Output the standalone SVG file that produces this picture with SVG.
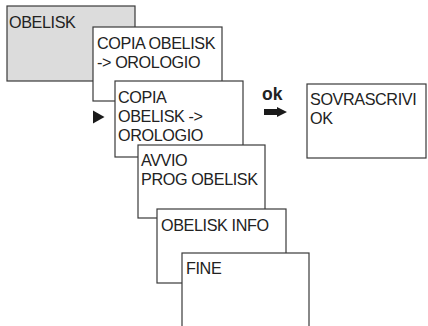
<svg xmlns="http://www.w3.org/2000/svg" width="428" height="326" viewBox="0 0 428 326">
<style>
.box{fill:#ffffff;stroke:#3a3a3a;stroke-width:1.2}
.t{font-family:"Liberation Sans",Arial,sans-serif;font-size:16.2px;letter-spacing:-0.4px;fill:#222222}
.b{font-family:"Liberation Sans",Arial,sans-serif;font-size:17.5px;font-weight:bold;fill:#222222}
</style>
<rect width="428" height="326" fill="#ffffff"/>
<g id="node-obelisk">
<rect class="box" x="7" y="6" width="128" height="75" style="fill:#dcdcdc"/>
<text class="t" x="9" y="27.5">OBELISK</text>
</g>
<g id="node-copia1">
<rect class="box" x="93" y="27" width="129" height="74"/>
<text class="t" x="97" y="49">COPIA OBELISK</text>
<text class="t" x="97" y="68">-&gt; OROLOGIO</text>
</g>
<g id="node-copia2">
<rect class="box" x="115" y="81" width="128" height="76"/>
<text class="t" x="118" y="102.5">COPIA</text>
<text class="t" x="118" y="121.5">OBELISK -&gt;</text>
<text class="t" x="118" y="140.5">OROLOGIO</text>
</g>
<g id="node-avvio">
<rect class="box" x="138" y="145" width="127" height="73"/>
<text class="t" x="141" y="165.5">AVVIO</text>
<text class="t" x="141" y="184.5">PROG OBELISK</text>
</g>
<g id="node-info">
<rect class="box" x="157" y="209" width="129" height="74"/>
<text class="t" x="161" y="230.5">OBELISK INFO</text>
</g>
<g id="node-fine">
<rect class="box" x="182" y="253" width="127" height="80"/>
<text class="t" x="186" y="273.5">FINE</text>
</g>
<g id="node-sovrascrivi">
<rect class="box" x="307" y="84" width="119" height="74"/>
<text class="t" x="310" y="104.5">SOVRASCRIVI</text>
<text class="t" x="310" y="123.5">OK</text>
</g>
<g id="connectors">
<polygon points="93,110.5 104.5,117 93,123.5" fill="#1a1a1a"/>
<text class="b" x="262" y="100">ok</text>
<polygon points="264,109 277,109 277,107 287,112 277,117 277,115 264,115" fill="#1a1a1a"/>
</g>
</svg>
